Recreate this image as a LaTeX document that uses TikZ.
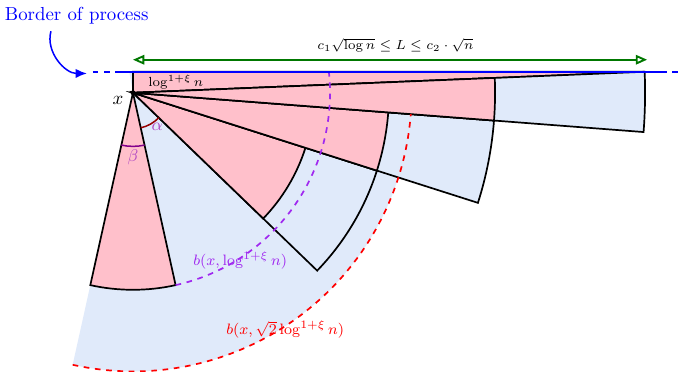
\documentclass[tikz,border=0pt]{standalone}
\usepackage{amsmath}
\usetikzlibrary{arrows.meta, positioning}
\definecolor{visitpink}{RGB}{255,192,203}
\definecolor{ballblue}{RGB}{224,234,250}
\definecolor{ballviolet}{RGB}{160,40,240}
\definecolor{alphared}{RGB}{150,0,0}
\definecolor{betapurple}{RGB}{130,0,140}
\definecolor{anglelabel}{RGB}{175,70,195}
\definecolor{spangreen}{RGB}{0,120,0}

\begin{document}
\begin{tikzpicture}[
        visited/.style={draw=black, line width=0.9pt, fill=visitpink},
        annulus/.style={draw=black, line width=0.9pt, fill=ballblue},
        ballarc/.style={line width=0.9pt, dashed},
        procline/.style={draw=blue, line width=1pt},
        arrow/.style={-{Latex[length=6pt, width=5pt]}, thick, draw=blue},
        walkspan/.style={{Triangle[open, length=6pt, width=5pt]}-{Triangle[open, length=6pt, width=5pt]}, line width=1pt, draw=spangreen},
        lbl/.style={font=\scriptsize}
    ]
    \useasboundingbox (-2.48,-5.19) rectangle (10.24,1.73);
    \coordinate (x) at (0,0);
    % region of the large ball, cut at the border
    \begin{scope}
        \clip (-2.48,-5.19) rectangle (10.24,0.392);
        \fill[ballblue] (x) -- (-102.5:5.197) arc[start angle=-102.5, end angle=100, radius=5.197] -- cycle;
    \end{scope}
    % sectors
    \draw[visited] (x) -- (0,0.392) -- (2.35:9.552) -- cycle;
    \draw[annulus] (x) -- (-44:4.776) arc[start angle=-44, end angle=-17.7, radius=4.776] -- cycle;
    \draw[visited] (x) -- (-44:3.377) arc[start angle=-44, end angle=-17.7, radius=3.377] -- cycle;
    \draw[annulus] (x) -- (-17.7:6.754) arc[start angle=-17.7, end angle=-4.4, radius=6.754] -- cycle;
    \draw[visited] (x) -- (-17.7:4.776) arc[start angle=-17.7, end angle=-4.4, radius=4.776] -- cycle;
    \draw[annulus] (x) -- (-4.4:9.552) arc[start angle=-4.4, end angle=2.35, radius=9.552] -- cycle;
    \draw[visited] (x) -- (-4.4:6.754) arc[start angle=-4.4, end angle=2.35, radius=6.754] -- cycle;
    \draw[visited] (x) -- (-102.5:3.675) arc[start angle=-102.5, end angle=-77.5, radius=3.675] -- cycle;
    % balls
    \draw[ballarc, ballviolet] (-77.5:3.675) arc[start angle=-77.5, end angle=6.12, radius=3.675];
    \draw[ballarc, red] (-102.5:5.197) arc[start angle=-102.5, end angle=-4.4, radius=5.197];
    \node[text=ballviolet, font=\footnotesize] (ball1) at (2.0,-3.13) {$b(x,\log^{1+\xi} n)$};
    \node[text=red, font=\footnotesize] (ball2) at (2.84,-4.42) {$b(x,\sqrt{2}\log^{1+\xi} n)$};
    % angles
    \draw[alphared, thick] (-77.5:0.67) arc[start angle=-77.5, end angle=-44, radius=0.67];
    \draw[betapurple, thick] (-102.5:1.0) arc[start angle=-102.5, end angle=-77.5, radius=1.0];
    \node[text=anglelabel, font=\small] (alpha) at (0.45,-0.64) {$\alpha$};
    \node[text=anglelabel, font=\small] (beta) at (0,-1.21) {$\beta$};
    % point x
    \fill (x) circle (1.3pt);
    \node (xlab) at (-0.28,-0.15) {$x$};
    \node[lbl] (height) at (0.8,0.2) {$\log^{1+\xi} n$};
    % border of the process
    \coordinate (bl) at (-0.75,0.392);
    \coordinate (bs) at (-0.25,0.392);
    \coordinate (be) at (9.85,0.392);
    \coordinate (br) at (10.3,0.392);
    \draw[procline, dashed] (bl) -- (bs);
    \draw[procline] (bs) -- (be);
    \draw[procline, dashed] (be) -- (br);
    \node[text=blue] (bop) at (-1.05,1.43) {Border of process};
    \coordinate (bordertip) at (-0.86,0.36);
    \draw[arrow] ([xshift=-0.48cm]bop.south) to[out=255, in=180] (bordertip);
    % length of the walk
    \coordinate (spanl) at (0,0.616);
    \coordinate (spanr) at (9.59,0.616);
    \draw[walkspan] (spanl) -- node[lbl, above, xshift=0.1cm] (spanlabel) {$c_1\sqrt{\log n} \le L \le c_2 \cdot \sqrt{n}$} (spanr);
\end{tikzpicture}
\end{document}
